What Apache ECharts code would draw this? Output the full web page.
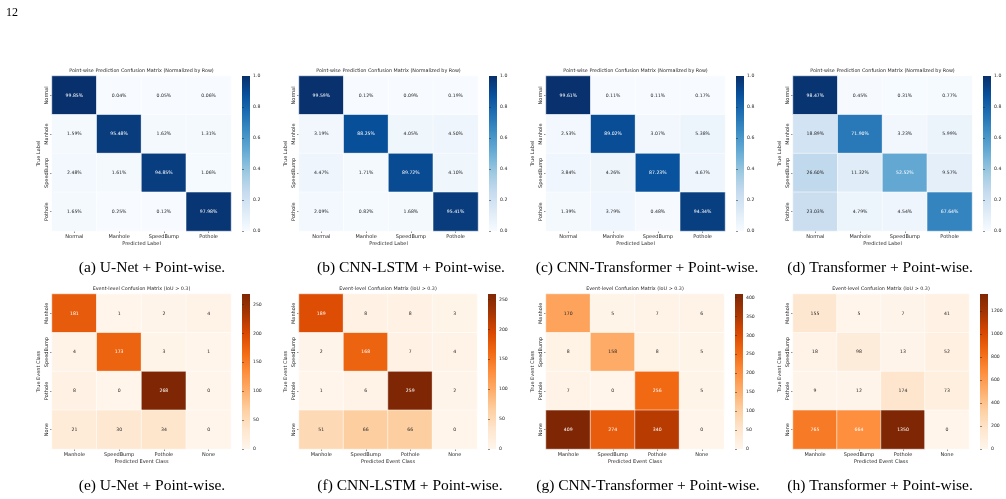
<!DOCTYPE html>
<html lang="en">

<head>
    <meta charset="UTF-8">
    <title>Confusion matrices</title>
    <script src="https://cdn.jsdelivr.net/npm/echarts@6/dist/echarts.min.js"></script>
    <style>
        body {
            margin: 0;
            background: #fff;
        }

        #chart {
            width: 1006px;
            height: 499px;
        }
    </style>
</head>

<body>
    <div id="chart"></div>

    <script>
        // class names on the axes
        const pointClasses = ['Normal', 'Manhole', 'SpeedBump', 'Pothole'];
        const eventClasses = ['Manhole', 'SpeedBump', 'Pothole', 'None'];

        // point-wise matrices, % of each true-label row
        const unetPoint = [
            [99.85, 0.04, 0.05, 0.06],
            [1.59, 95.48, 1.62, 1.31],
            [2.48, 1.61, 94.85, 1.06],
            [1.65, 0.25, 0.12, 97.98]
        ];
        const lstmPoint = [
            [99.59, 0.12, 0.09, 0.19],
            [3.19, 88.25, 4.05, 4.50],
            [4.47, 1.71, 89.72, 4.10],
            [2.09, 0.82, 1.68, 95.41]
        ];
        const cnnTfPoint = [
            [99.61, 0.11, 0.11, 0.17],
            [2.53, 89.02, 3.07, 5.38],
            [3.84, 4.26, 87.23, 4.67],
            [1.39, 3.79, 0.48, 94.34]
        ];
        const tfPoint = [
            [98.47, 0.45, 0.31, 0.77],
            [18.89, 71.90, 3.23, 5.99],
            [26.60, 11.32, 52.52, 9.57],
            [23.03, 4.79, 4.54, 67.64]
        ];

        // event-level counts (IoU > 0.3)
        const unetEvent = [
            [181, 1, 2, 4],
            [4, 173, 3, 1],
            [8, 0, 268, 0],
            [21, 30, 34, 0]
        ];
        const lstmEvent = [
            [189, 8, 8, 3],
            [2, 168, 7, 4],
            [1, 6, 259, 2],
            [51, 66, 66, 0]
        ];
        const cnnTfEvent = [
            [170, 5, 7, 6],
            [8, 158, 8, 5],
            [7, 0, 256, 5],
            [409, 274, 340, 0]
        ];
        const tfEvent = [
            [155, 5, 7, 41],
            [18, 98, 13, 52],
            [9, 12, 174, 73],
            [765, 664, 1350, 0]
        ];

        // colorbar tick labels
        const pointTicks = [0, 0.2, 0.4, 0.6, 0.8, 1.0];
        const eventTicks50 = [0, 50, 100, 150, 200, 250];
        const eventTicks400 = [0, 50, 100, 150, 200, 250, 300, 350, 400];
        const eventTicks1200 = [0, 200, 400, 600, 800, 1000, 1200];

        const captions = [
            '(a) U-Net + Point-wise.', '(b) CNN-LSTM + Point-wise.',
            '(c) CNN-Transformer + Point-wise.', '(d) Transformer + Point-wise.',
            '(e) U-Net + Point-wise.', '(f) CNN-LSTM + Point-wise.',
            '(g) CNN-Transformer + Point-wise.', '(h) Transformer + Point-wise.'
        ];

        const blues = ['#f7fbff', '#deebf7', '#c6dbef', '#9ecae1', '#6baed6', '#4292c6', '#2171b5', '#08519c', '#08306b'];
        const oranges = ['#fff5eb', '#fee6ce', '#fdd0a2', '#fdae6b', '#fd8d3c', '#f16913', '#d94801', '#a63603', '#7f2704'];

        const FONT = 'DejaVu Sans';
        const TXT = '#262626';

        // layout of the eight panels
        const panels = [
            { m: unetPoint, kind: 'point', left: 52, top: 76, width: 179, cb: 242, ticks: pointTicks, cap: 152 },
            { m: lstmPoint, kind: 'point', left: 299, top: 76, width: 179, cb: 489, ticks: pointTicks, cap: 411 },
            { m: cnnTfPoint, kind: 'point', left: 546, top: 76, width: 179, cb: 736, ticks: pointTicks, cap: 647 },
            { m: tfPoint, kind: 'point', left: 793, top: 76, width: 179, cb: 983, ticks: pointTicks, cap: 880 },
            { m: unetEvent, kind: 'event', left: 52, top: 294, width: 179, cb: 242, ticks: eventTicks50, cap: 152 },
            { m: lstmEvent, kind: 'event', left: 299, top: 294, width: 178, cb: 488, ticks: eventTicks50, cap: 410 },
            { m: cnnTfEvent, kind: 'event', left: 546, top: 294, width: 178, cb: 735, ticks: eventTicks400, cap: 648 },
            { m: tfEvent, kind: 'event', left: 793, top: 294, width: 176, cb: 980, ticks: eventTicks1200, cap: 880 }
        ];
        const H = 155;

        const grid = [], xAxis = [], yAxis = [], series = [], visualMap = [], graphic = [];

        graphic.push({
            type: 'text', left: 6, top: 7,
            style: { text: '12', fontFamily: 'Liberation Serif', fontSize: 12, fill: '#000' }
        });

        panels.forEach((p, k) => {
            const isPoint = p.kind === 'point';
            const classes = isPoint ? pointClasses : eventClasses;
            const vmax = isPoint ? 100 : Math.max(...p.m.flat());
            const colors = isPoint ? blues : oranges;

            // heatmap grid
            grid.push({ left: p.left, top: p.top, width: p.width, height: H });
            const gi = grid.length - 1;
            xAxis.push({
                type: 'category', gridIndex: gi, data: classes,
                name: isPoint ? 'Predicted Label' : 'Predicted Event Class',
                nameLocation: 'middle', nameGap: 10,
                nameTextStyle: { fontFamily: FONT, fontSize: 5, color: TXT },
                axisLine: { show: false },
                axisTick: { show: true, alignWithLabel: true, interval: 0, length: 2, lineStyle: { color: TXT, width: 0.5 } },
                axisLabel: { fontFamily: FONT, fontSize: 5, color: TXT, margin: 3, interval: 0 },
                splitLine: { show: false }
            });
            yAxis.push({
                type: 'category', gridIndex: gi, data: classes, inverse: true,
                name: isPoint ? 'True Label' : 'True Event Class',
                nameLocation: 'middle', nameGap: 11,
                nameTextStyle: { fontFamily: FONT, fontSize: 5, color: TXT },
                axisLine: { show: false },
                axisTick: { show: true, alignWithLabel: true, interval: 0, length: 2, lineStyle: { color: TXT, width: 0.5 } },
                axisLabel: { fontFamily: FONT, fontSize: 5, color: TXT, rotate: 90, margin: 3, interval: 0 },
                splitLine: { show: false }
            });

            const data = [];
            p.m.forEach((row, i) => row.forEach((v, j) => {
                data.push({
                    value: [j, i, v],
                    label: { color: v / vmax > 0.45 ? '#ffffff' : TXT }
                });
            }));
            series.push({
                type: 'heatmap', xAxisIndex: gi, yAxisIndex: gi, data: data,
                label: {
                    show: true, fontFamily: FONT, fontSize: 4.6, fontWeight: 'normal', textBorderWidth: 0,
                    formatter: isPoint ? (d => d.value[2].toFixed(2) + '%') : (d => String(d.value[2]))
                },
                itemStyle: { borderColor: 'rgba(255,255,255,0.55)', borderWidth: 1 },
                emphasis: { disabled: true },
                silent: true
            });
            visualMap.push({
                type: 'continuous', show: false, seriesIndex: series.length - 1,
                min: 0, max: vmax, inRange: { color: colors }
            });

            // colorbar grid
            const stops = colors.slice().reverse().map((c, n) => ({ offset: n / (colors.length - 1), color: c }));
            grid.push({
                left: p.cb, top: p.top, width: 8, height: H, show: true, borderWidth: 0,
                backgroundColor: new echarts.graphic.LinearGradient(0, 0, 0, 1, stops)
            });
            const ci = grid.length - 1;
            xAxis.push({ type: 'value', gridIndex: ci, show: false });
            yAxis.push({
                type: 'value', gridIndex: ci, position: 'right',
                min: 0, max: isPoint ? 1 : vmax,
                axisLine: { show: false },
                splitLine: { show: false },
                axisTick: { show: true, length: 2, customValues: p.ticks, lineStyle: { color: TXT, width: 0.5 } },
                axisLabel: {
                    fontFamily: FONT, fontSize: 4.6, color: TXT, margin: 3, customValues: p.ticks,
                    formatter: v => isPoint ? v.toFixed(1) : String(v)
                }
            });

            // panel title and caption
            graphic.push({
                type: 'text', x: p.left + p.width / 2, y: p.top - 5,
                style: {
                    text: isPoint ? 'Point-wise Prediction Confusion Matrix (Normalized by Row)' : 'Event-level Confusion Matrix (IoU > 0.3)',
                    fontFamily: FONT, fontSize: 4.85, fill: TXT, align: 'center', verticalAlign: 'middle'
                }
            });
            graphic.push({
                type: 'text', x: p.cap, y: isPoint ? 268 : 486,
                style: {
                    text: captions[k], fontFamily: 'Liberation Serif', fontSize: 15.5, fill: '#000',
                    align: 'center', verticalAlign: 'middle'
                }
            });
        });

        const chart = echarts.init(document.getElementById('chart'));
        chart.setOption({
            backgroundColor: '#ffffff',
            animation: false,
            grid: grid,
            xAxis: xAxis,
            yAxis: yAxis,
            visualMap: visualMap,
            series: series,
            graphic: graphic
        });
    </script>
</body>

</html>
